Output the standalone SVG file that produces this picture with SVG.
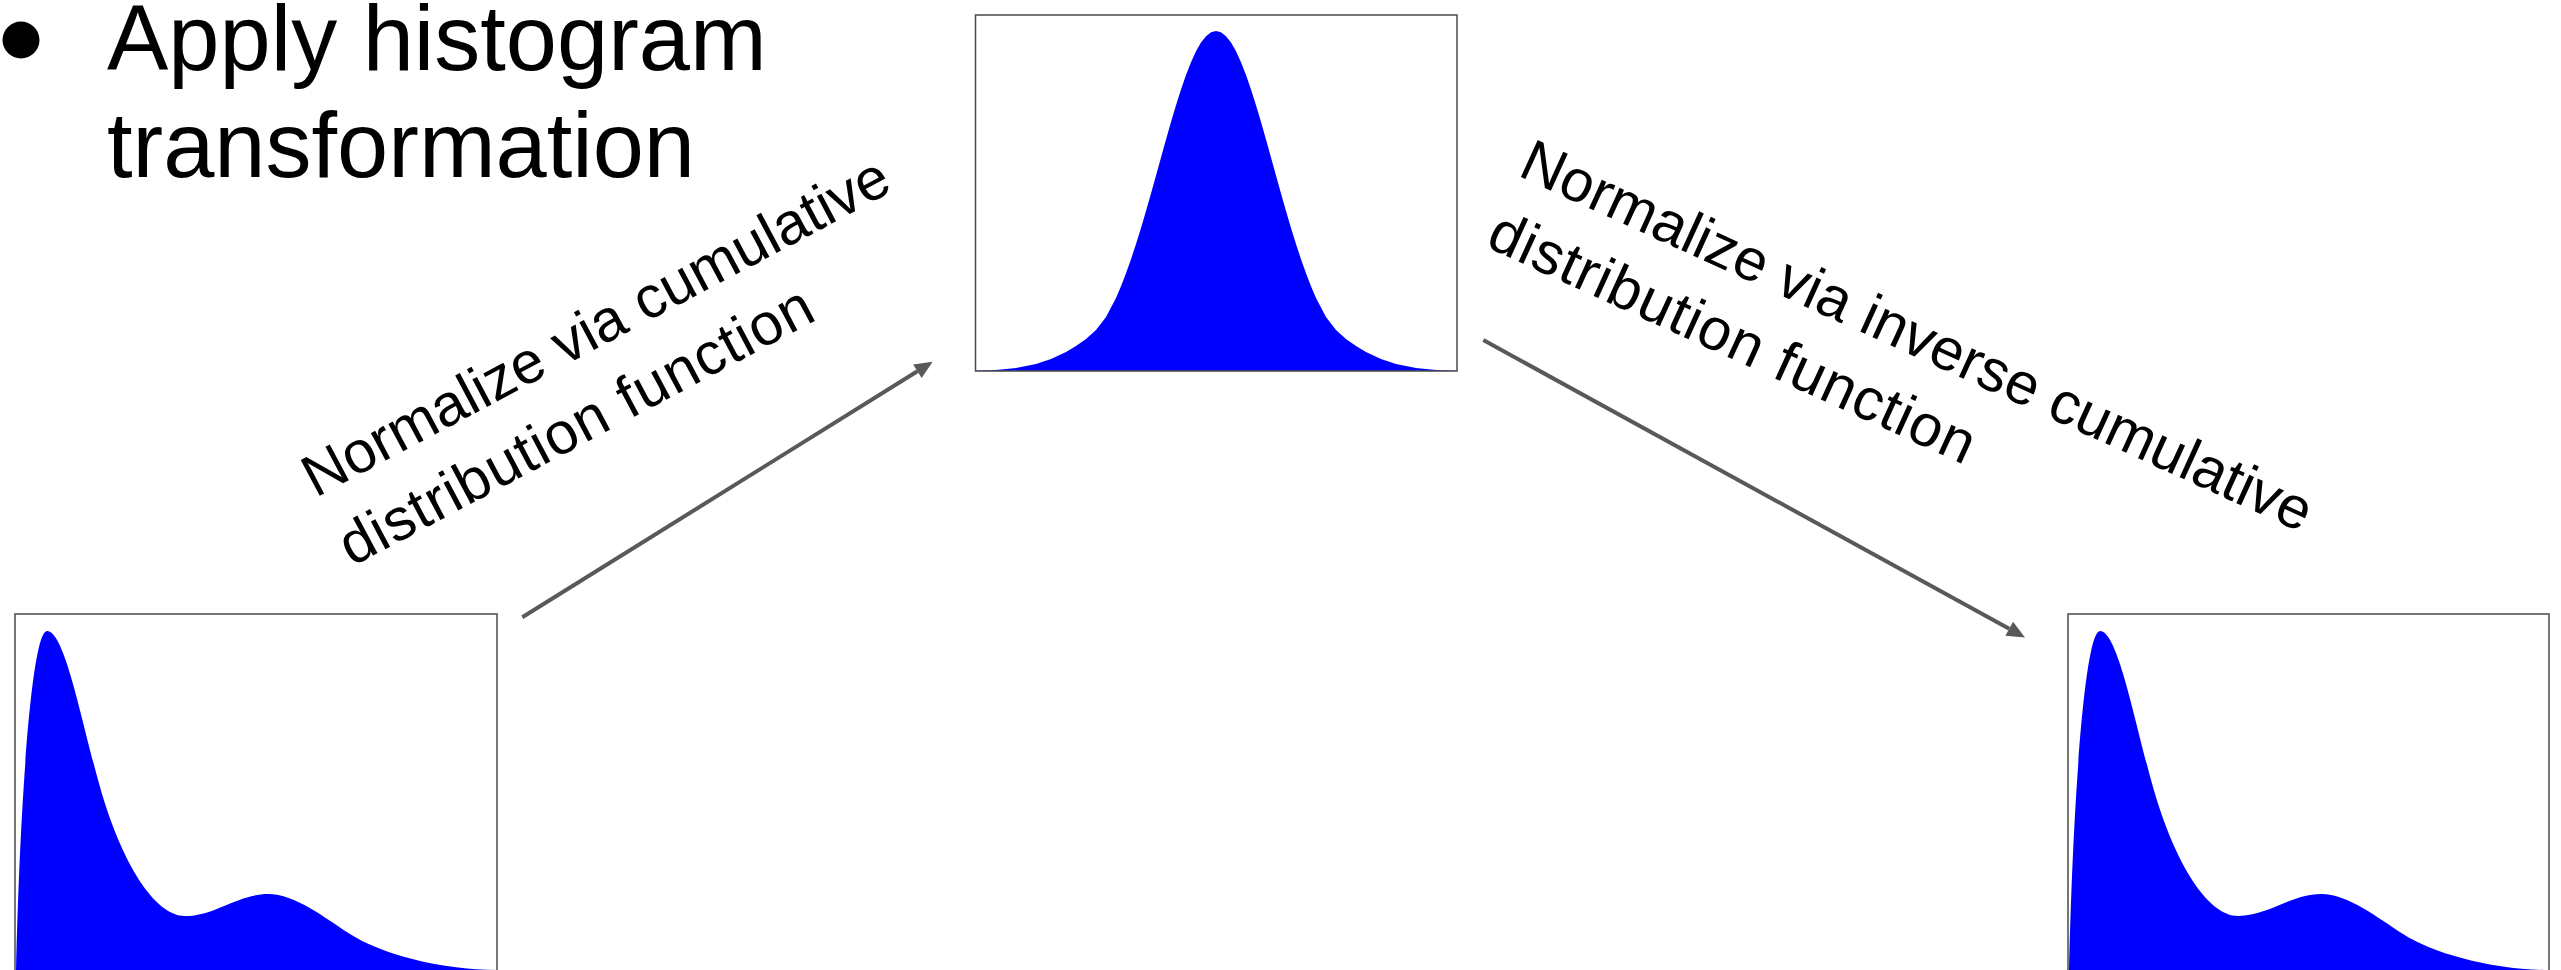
<svg xmlns="http://www.w3.org/2000/svg" xmlns:xlink="http://www.w3.org/1999/xlink" width="2561" height="970" viewBox="0 0 2561 970">
  <style>
    .title { font-family: "Liberation Sans", Arial, sans-serif; font-size: 92px; fill: #000; }
    .label { font-family: "Liberation Sans", Arial, sans-serif; font-size: 59px; fill: #000; }
    .frame { fill: none; stroke: #4a4a4a; stroke-width: 1.5; }
    .dist { fill: #0000ff; stroke: none; }
    .conn { fill: none; stroke: #595959; stroke-width: 4; marker-end: url(#head); }
  </style>
  <defs>
    <marker id="head" markerUnits="userSpaceOnUse" markerWidth="18" markerHeight="16" refX="0" refY="8" orient="auto" overflow="visible">
      <path d="M0,0 L18,8 L0,16 Z" fill="#595959"/>
    </marker>
    <path id="bimodal" d="M16,970 C20,800 32,631 47,631 C65,631 82,724 100,787 C122,864 155,916 185,916 C215,916 238,894 268,894 C295,894 325,918 350,934 C380,953.5 440,970 497,970 L497,976 L16,976 Z"/>
  </defs>
  <rect width="2561" height="970" fill="#ffffff"/>

  <g id="title">
    <circle cx="21" cy="40" r="18.5" fill="#000"/>
    <text class="title" x="107" y="70">Apply histogram</text>
    <text class="title" x="107" y="177">transformation</text>
  </g>

  <g id="node-source">
    <use xlink:href="#bimodal" class="dist"/>
    <rect class="frame" x="15" y="614" width="482" height="362"/>
  </g>

  <g id="node-normal">
    <path class="dist" d="M976,371 L976,370.8 L996,370 L1016,368 L1036,364 L1051,359 L1066,352 L1076,346 L1086,339 L1096,330 L1106,317 L1116,298 L1121,286.2 L1126,273.3 L1131,259.2 L1136,244 L1141,227.9 L1146,211.1 L1151,193.6 L1156,175.6 L1161,157.5 L1166,139.6 L1171,122 L1176,105.2 L1181,89.4 L1186,75 L1191,62.2 L1196,51.3 L1201,42.6 L1206,36.2 L1211,32.3 L1216,31 L1221,32.3 L1226,36.2 L1231,42.6 L1236,51.3 L1241,62.2 L1246,75 L1251,89.4 L1256,105.2 L1261,122 L1266,139.6 L1271,157.5 L1276,175.6 L1281,193.6 L1286,211.1 L1291,227.9 L1296,244 L1301,259.2 L1306,273.3 L1311,286.2 L1316,298 L1326,317 L1336,330 L1346,339 L1356,346 L1366,352 L1381,359 L1396,364 L1416,368 L1436,370 L1456,370.8 L1456,371 Z"/>
    <rect class="frame" x="975.5" y="15" width="481.5" height="356"/>
  </g>

  <g id="node-target">
    <use xlink:href="#bimodal" class="dist" transform="translate(2053,0)"/>
    <rect class="frame" x="2068" y="614" width="481" height="362"/>
  </g>

  <g id="connectors">
    <line class="conn" x1="522.3" y1="617.3" x2="917.4" y2="371.2"/>
    <line class="conn" x1="1483.3" y1="340" x2="2009.2" y2="628.8"/>
  </g>

  <g id="connector-labels">
    <g transform="translate(315.5,498) rotate(-28)">
      <text class="label" x="0" y="0">Normalize via cumulative</text>
      <text class="label" x="0" y="78" textLength="528">distribution function</text>
    </g>
    <g transform="translate(1516.6,175.1) rotate(24.5)">
      <text class="label" x="0" y="0">Normalize via inverse cumulative</text>
      <text class="label" x="0" y="78" textLength="528">distribution function</text>
    </g>
  </g>
</svg>
